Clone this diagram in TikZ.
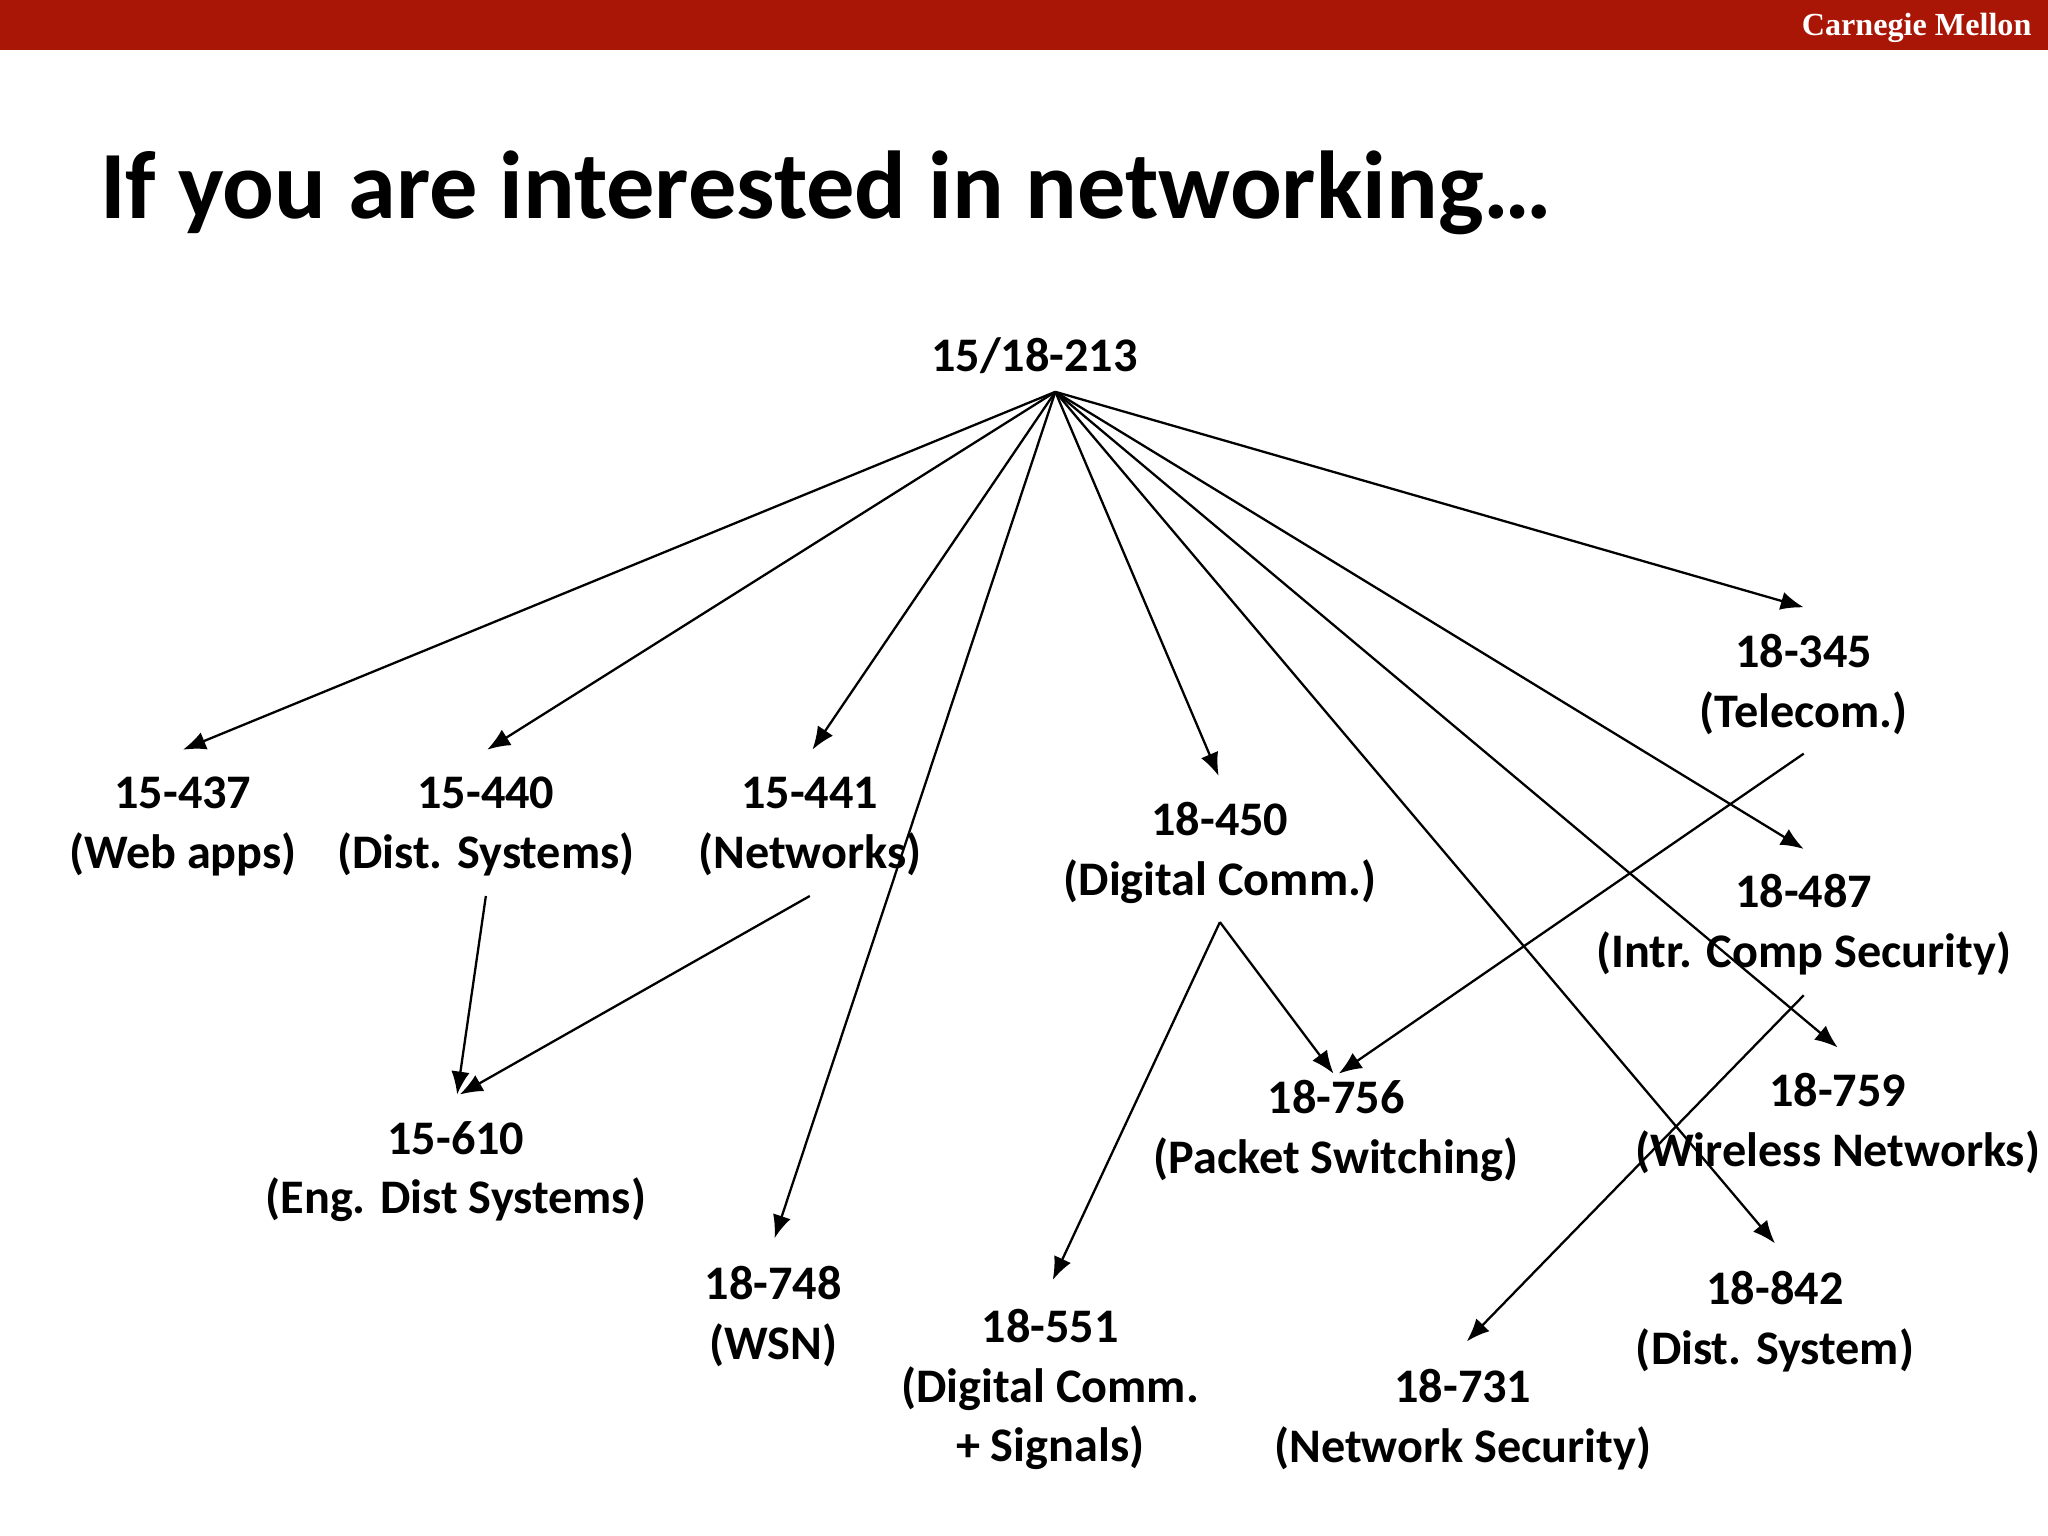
\documentclass[tikz,border=0pt]{standalone}
\usepackage{fontspec}
\setmainfont{Carlito}
\newfontfamily\cmufont{Liberation Serif}
\usetikzlibrary{arrows.meta}
\definecolor{cmured}{HTML}{A91605}
\begin{document}
\begin{tikzpicture}[x=0.01cm,y=-0.01cm,
  lbl/.style={font=\bfseries\fontsize{10.5}{13}\selectfont,align=center,inner sep=0pt},
  arr/.style={-{Latex[length=5pt,width=4pt]},line width=0.5pt}]
\useasboundingbox (0,0) rectangle (1568,1176);
\fill[cmured] (0,0) rectangle (1568,38);
\node[anchor=east,text=white,font=\cmufont\bfseries\fontsize{7}{8}\selectfont,inner sep=0pt] (cmu) at (1556,21) {Carnegie Mellon};
\node[anchor=west,font=\bfseries\fontsize{21}{24}\selectfont,inner sep=0pt] (title) at (76,148) {If you are interested in networking…};
\node[lbl] (n213) at (792,272) {15/18-213};
\node[lbl] (n437) at (140,633) {15-437\\(Web apps)};
\node[lbl] (n440) at (372,633) {15-440\\(Dist. Systems)};
\node[lbl] (n441) at (620,633) {15-441\\(Networks)};
\node[lbl] (n450) at (934,653) {18-450\\(Digital Comm.)};
\node[lbl] (n345) at (1381,524) {18-345\\(Telecom.)};
\node[lbl] (n487) at (1381,708) {18-487\\(Intr. Comp Security)};
\node[lbl] (n759) at (1407,860) {18-759\\(Wireless Networks)};
\node[lbl] (n756) at (1023,866) {18-756\\(Packet Switching)};
\node[lbl] (n610) at (349,897) {15-610\\(Eng. Dist Systems)};
\node[lbl] (n748) at (592,1008) {18-748\\(WSN)};
\node[lbl] (n551) at (804,1064) {18-551\\(Digital Comm.\\+ Signals)};
\node[lbl] (n731) at (1120,1087) {18-731\\(Network Security)};
\node[lbl] (n842) at (1359,1012) {18-842\\(Dist. System)};
\coordinate (src) at (808,300);
\coordinate (t437) at (140,574);
\coordinate (t440) at (373,574);
\coordinate (t441) at (622,574);
\coordinate (t748) at (593,948);
\coordinate (t450) at (933,594);
\coordinate (t345) at (1381,465);
\coordinate (t487) at (1381,650);
\coordinate (t759) at (1407,802);
\coordinate (t842) at (1359,952);
\foreach \t in {t437,t440,t441,t748,t450,t345,t487,t759,t842} \draw[arr] (src) -- (\t);
\coordinate (s440) at (372,686); \coordinate (a610) at (350,838);
\coordinate (s441) at (620,686); \coordinate (b610) at (352,838);
\coordinate (s450) at (934,706); \coordinate (a756) at (1021,822); \coordinate (t551) at (806,980);
\coordinate (s345) at (1381,577); \coordinate (b756) at (1025,822);
\coordinate (s487) at (1381,762); \coordinate (t731) at (1123,1027);
\draw[arr] (s440) -- (a610);
\draw[arr] (s441) -- (b610);
\draw[arr] (s450) -- (a756);
\draw[arr] (s450) -- (t551);
\draw[arr] (s345) -- (b756);
\draw[arr] (s487) -- (t731);
\end{tikzpicture}
\end{document}
